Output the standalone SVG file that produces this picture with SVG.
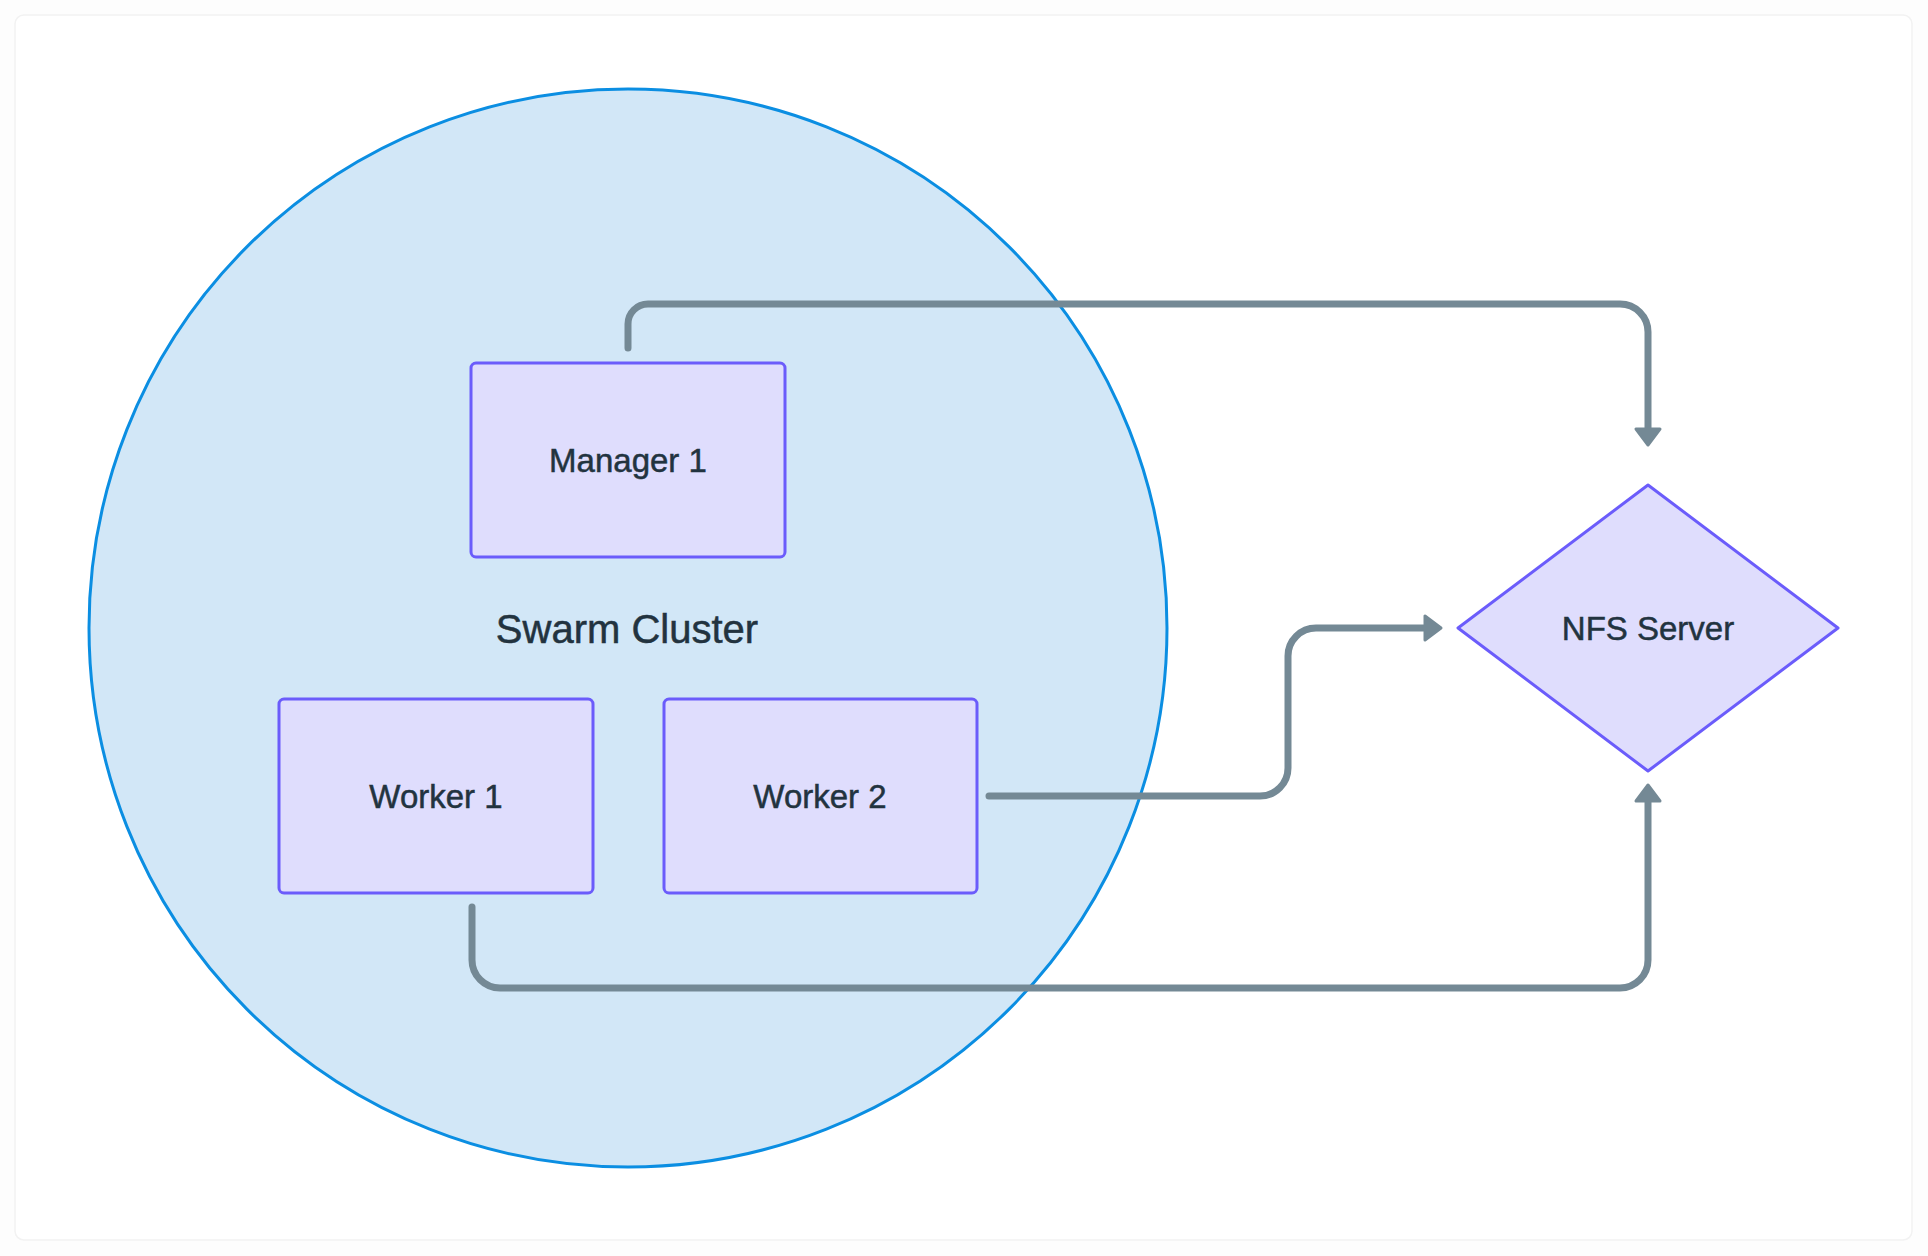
<svg xmlns="http://www.w3.org/2000/svg" width="1928" height="1256" viewBox="0 0 1928 1256">
  <style>
    .node { fill: #dfddfd; stroke: #6b5cfb; stroke-width: 3; stroke-linejoin: round; }
    .label { font-family: "Liberation Sans", Arial, sans-serif; font-size: 33px; fill: #22333f; stroke: #22333f; stroke-width: 0.5; text-anchor: middle; }
    .cluster-label { font-family: "Liberation Sans", Arial, sans-serif; font-size: 40px; fill: #22333f; stroke: #22333f; stroke-width: 0.5; text-anchor: middle; }
    .edge { fill: none; stroke: #748995; stroke-width: 7; stroke-linecap: round; stroke-linejoin: round; }
    .head { fill: #748995; stroke: #748995; stroke-width: 3; stroke-linejoin: round; }
  </style>
  <rect x="0" y="0" width="1928" height="1256" fill="#fdfdfd"/>
  <rect x="15" y="15" width="1897" height="1225" rx="9" fill="#ffffff" stroke="#f2f2f2" stroke-width="1.5"/>

  <g id="swarm-cluster">
    <circle cx="628" cy="628" r="539" fill="#d2e7f7" stroke="#0b8ee2" stroke-width="3"/>
    <text class="cluster-label" x="627" y="643">Swarm Cluster</text>
  </g>

  <g id="connectors">
    <path class="edge" d="M628,348 V324 A20,20 0 0 1 648,304 H1620 A28,28 0 0 1 1648,332 V428"/>
    <polygon class="head" points="1636,429 1660,429 1648,445"/>
    <path class="edge" d="M989,796 H1260 A28,28 0 0 0 1288,768 V656 A28,28 0 0 1 1316,628 H1424"/>
    <polygon class="head" points="1425,616 1425,640 1441,628"/>
    <path class="edge" d="M472,907 V960 A28,28 0 0 0 500,988 H1620 A28,28 0 0 0 1648,960 V801"/>
    <polygon class="head" points="1636,801 1660,801 1648,785"/>
  </g>

  <g id="manager-1">
    <rect class="node" x="471" y="363" width="314" height="194" rx="5"/>
    <text class="label" x="628" y="472">Manager 1</text>
  </g>

  <g id="worker-1">
    <rect class="node" x="279" y="699" width="314" height="194" rx="5"/>
    <text class="label" x="436" y="808">Worker 1</text>
  </g>

  <g id="worker-2">
    <rect class="node" x="664" y="699" width="313" height="194" rx="5"/>
    <text class="label" x="820" y="808">Worker 2</text>
  </g>

  <g id="nfs-server">
    <polygon class="node" points="1648,485 1838,628 1648,771 1458,628"/>
    <text class="label" x="1648" y="640">NFS Server</text>
  </g>
</svg>
